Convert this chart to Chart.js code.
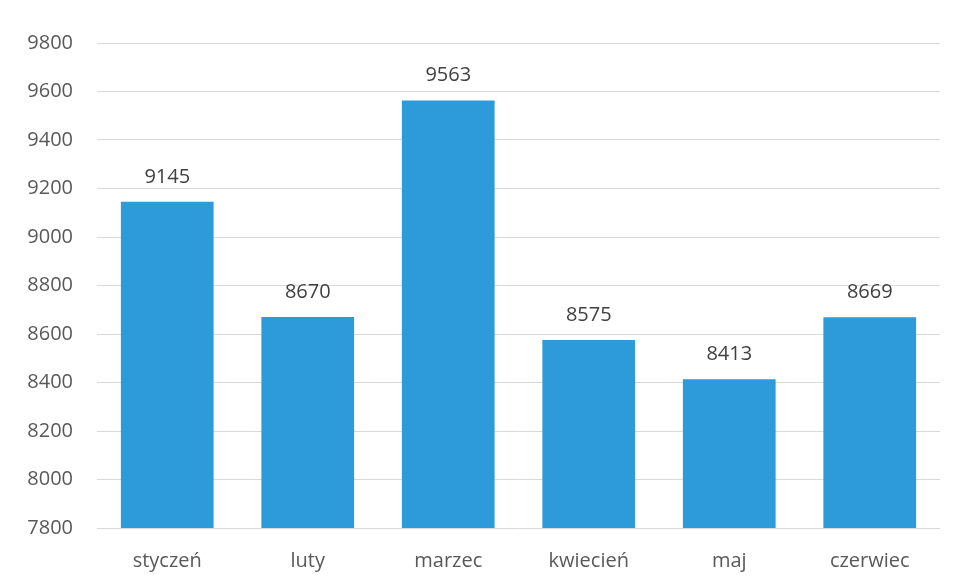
<!DOCTYPE html>
<html>
<head>
<meta charset="utf-8">
<script src="https://cdn.jsdelivr.net/npm/chart.js@4"></script>
<style>
  html, body { margin: 0; padding: 0; background: #fff; }
  #wrap { width: 960px; height: 582px; }
</style>
</head>
<body>
<div id="wrap"><canvas id="chart"></canvas></div>
<script>
const months = ['styczeń', 'luty', 'marzec', 'kwiecień', 'maj', 'czerwiec'];
const values = [9145, 8670, 9563, 8575, 8413, 8669];
const yTicks = [7800, 8000, 8200, 8400, 8600, 8800, 9000, 9200, 9400, 9600, 9800];

const fontFamily = '"Open Sans", Lato, sans-serif';

// napisy z wartościami nad słupkami
const valueLabels = {
    id: 'valueLabels',
    afterDatasetsDraw(chart) {
        const ctx = chart.ctx;
        const meta = chart.getDatasetMeta(0);
        ctx.save();
        ctx.font = '20px ' + fontFamily;
        ctx.fillStyle = '#404040';
        ctx.textAlign = 'center';
        ctx.textBaseline = 'middle';
        meta.data.forEach((bar, i) => {
            ctx.fillText(String(values[i]), bar.x, bar.y - 25);
        });
        ctx.restore();
    }
};

const ctx = document.getElementById('chart').getContext('2d');
new Chart(ctx, {
    type: 'bar',
    data: {
        labels: months,
        datasets: [{
            data: values,
            backgroundColor: '#2d9bd9',
            borderWidth: 0,
            categoryPercentage: 1,
            barPercentage: 0.66
        }]
    },
    options: {
        responsive: true,
        maintainAspectRatio: false,
        animation: false,
        layout: { padding: { top: 43, right: 20, left: 0, bottom: 0 } },
        plugins: {
            legend: { display: false },
            tooltip: { enabled: false }
        },
        scales: {
            y: {
                min: yTicks[0],
                max: yTicks[yTicks.length - 1],
                afterBuildTicks: scale => { scale.ticks = yTicks.map(v => ({ value: v })); },
                afterFit: scale => { scale.width = 97; },
                border: { display: false },
                grid: { color: '#d9d9d9', lineWidth: 1, drawTicks: false },
                ticks: {
                    padding: 24,
                    color: '#595959',
                    font: { size: 20, family: fontFamily },
                    callback: v => String(v)
                }
            },
            x: {
                afterFit: scale => { scale.height = 54; },
                border: { display: false },
                grid: { display: false },
                ticks: {
                    padding: 13,
                    color: '#595959',
                    font: { size: 20, family: fontFamily }
                }
            }
        }
    },
    plugins: [valueLabels]
});
</script>
</body>
</html>
